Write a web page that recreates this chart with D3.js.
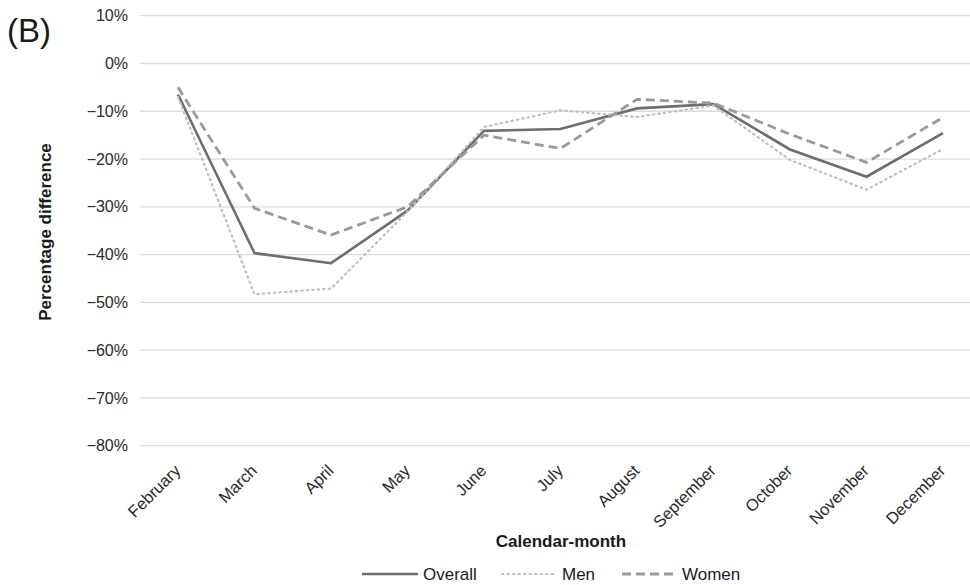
<!DOCTYPE html>
<html>
<head>
<meta charset="utf-8">
<script src="https://cdn.jsdelivr.net/npm/d3@7"></script>
<style>
  body { margin: 0; background: #fff; }
  svg { display: block; font-family: "Liberation Sans", Arial, sans-serif; }
</style>
</head>
<body>
<svg id="chart" width="970" height="585"></svg>
<script>
// Monthly percentage difference by group
const months = ["February", "March", "April", "May", "June", "July", "August",
                "September", "October", "November", "December"];
const overall = [-6.5, -39.7, -41.8, -30.8, -14.1, -13.7, -9.4, -8.5, -18.0, -23.7, -14.6];
const men     = [-7.0, -48.3, -47.1, -31.0, -13.3, -9.8, -11.2, -8.8, -20.2, -26.4, -17.9];
const women   = [-5.0, -30.3, -35.9, -30.0, -15.0, -17.8, -7.5, -8.3, -14.8, -20.7, -11.3];
const yTicks  = [10, 0, -10, -20, -30, -40, -50, -60, -70, -80];

const series = [
  { name: "Overall", values: overall, color: "#6e6e70", width: 2.6, dash: null },
  { name: "Men",     values: men,     color: "#c0c0c0", width: 2.2, dash: "1.5,4" },
  { name: "Women",   values: women,   color: "#9a9a9c", width: 2.8, dash: "9,5" }
];

const svg = d3.select("#chart");
const gridLeft = 140, gridRight = 970;

const x = d3.scalePoint().domain(months).range([178, 943]);
const y = d3.scaleLinear().domain([-80, 10]).range([445.7, 15.7]);

const fmt = v => (v < 0 ? "\u2212" + Math.abs(v) : v) + "%";

// horizontal gridlines
svg.append("g").selectAll("line").data(yTicks).join("line")
  .attr("x1", gridLeft).attr("x2", gridRight)
  .attr("y1", d => y(d)).attr("y2", d => y(d))
  .attr("stroke", "#dcdcdc").attr("stroke-width", 1.3);

// y axis labels
const yAxis = d3.axisLeft(y).tickValues(yTicks).tickFormat(fmt).tickSize(0).tickPadding(0);
const gy = svg.append("g").attr("transform", "translate(128,0)").call(yAxis);
gy.select(".domain").remove();
gy.selectAll("text").attr("font-size", 16).attr("fill", "#2a2a2a")
  .attr("font-family", "Liberation Sans, Arial, sans-serif");

// x axis labels, rotated
const xAxis = d3.axisBottom(x).tickSize(0).tickPadding(0);
const gx = svg.append("g").attr("transform", "translate(0,445.7)").call(xAxis);
gx.select(".domain").remove();
gx.selectAll("text")
  .attr("font-size", 16.5).attr("fill", "#2a2a2a")
  .attr("font-family", "Liberation Sans, Arial, sans-serif")
  .attr("text-anchor", "end")
  .attr("dy", null)
  .attr("transform", "translate(3,26) rotate(-45)");

// lines
const line = d3.line().x((d, i) => x(months[i])).y(d => y(d));
svg.append("g").selectAll("path").data(series).join("path")
  .attr("d", d => line(d.values))
  .attr("fill", "none")
  .attr("stroke", d => d.color)
  .attr("stroke-width", d => d.width)
  .attr("stroke-dasharray", d => d.dash)
  .attr("stroke-linecap", d => d.name === "Men" ? "round" : "butt")
  .attr("stroke-linejoin", "miter");

// axis titles
svg.append("text").attr("x", 561).attr("y", 547).attr("text-anchor", "middle")
  .attr("font-size", 17).attr("font-weight", "bold").attr("fill", "#1a1a1a")
  .text("Calendar-month");
svg.append("text").attr("transform", "translate(51,232) rotate(-90)")
  .attr("text-anchor", "middle").attr("font-size", 17).attr("font-weight", "bold")
  .attr("fill", "#1a1a1a").text("Percentage difference");

// panel letter
svg.append("text").attr("x", 7).attr("y", 42).attr("font-size", 33)
  .attr("fill", "#1a1a1a").text("(B)");

// legend
const legendItems = [
  { s: series[0], x0: 362, x1: 418, tx: 423 },
  { s: series[1], x0: 502, x1: 557, tx: 562 },
  { s: series[2], x0: 622, x1: 678, tx: 682 }
];
const lg = svg.append("g");
legendItems.forEach(it => {
  lg.append("line").attr("x1", it.x0).attr("x2", it.x1).attr("y1", 574).attr("y2", 574)
    .attr("stroke", it.s.color).attr("stroke-width", it.s.width)
    .attr("stroke-dasharray", it.s.dash)
    .attr("stroke-linecap", it.s.name === "Men" ? "round" : "butt");
  lg.append("text").attr("x", it.tx).attr("y", 580).attr("font-size", 17)
    .attr("fill", "#1a1a1a").text(it.s.name);
});
</script>
</body>
</html>
